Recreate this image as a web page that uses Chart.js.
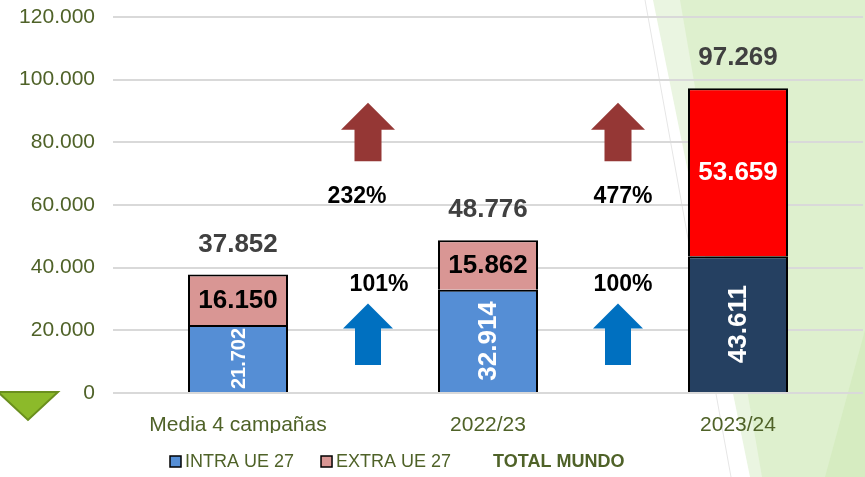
<!DOCTYPE html>
<html>
<head>
<meta charset="utf-8">
<script src="https://cdn.jsdelivr.net/npm/chart.js@4/dist/chart.umd.min.js"></script>
<style>
  html, body { margin: 0; padding: 0; background: #fff; }
  #wrap { width: 865px; height: 477px; }
</style>
</head>
<body>
<div id="wrap"><canvas id="chart" width="865" height="477"></canvas></div>
<script>
const categories = ['Media 4 campañas', '2022/23', '2023/24'];
const intraUE27 = [21702, 32914, 43611];
const extraUE27 = [16150, 15862, 53659];
const totalMundo = [37852, 48776, 97269];
const seriesNames = ['INTRA UE 27', 'EXTRA UE 27', 'TOTAL MUNDO'];
const yTickValues = [0, 20000, 40000, 60000, 80000, 100000, 120000];
const intraGrowth = ['101%', '100%'];
const extraGrowth = ['232%', '477%'];

const FONT = "'Liberation Sans', Arial, sans-serif";
const OLIVE = '#4F6228';

function fmt(v) {
    return String(v).replace(/\B(?=(\d{3})+(?!\d))/g, '.');
}

// slide decoration behind the chart
const backdrop = {
    id: 'backdrop',
    beforeDraw(chart) {
        const ctx = chart.ctx;
        const W = chart.width, H = chart.height;
        ctx.save();
        ctx.fillStyle = '#fff';
        ctx.fillRect(0, 0, W, H);

        ctx.fillStyle = '#EAF5E1';
        ctx.beginPath();
        ctx.moveTo(653, 0); ctx.lineTo(W, 0); ctx.lineTo(W, H); ctx.lineTo(750, H);
        ctx.closePath(); ctx.fill();

        ctx.fillStyle = '#DEF0CE';
        ctx.beginPath();
        ctx.moveTo(680, 0); ctx.lineTo(W, 0); ctx.lineTo(W, H); ctx.lineTo(762, H);
        ctx.closePath(); ctx.fill();

        ctx.fillStyle = '#D6ECC1';
        ctx.beginPath();
        ctx.moveTo(W, 330); ctx.lineTo(W, H); ctx.lineTo(825, H);
        ctx.closePath(); ctx.fill();

        ctx.strokeStyle = '#E6E6E6';
        ctx.lineWidth = 1;
        ctx.beginPath();
        ctx.moveTo(645, 0); ctx.lineTo(731, H);
        ctx.stroke();

        ctx.fillStyle = '#8CBA2A';
        ctx.strokeStyle = '#6A8F1E';
        ctx.lineWidth = 2;
        ctx.beginPath();
        ctx.moveTo(-2, 392); ctx.lineTo(58, 392); ctx.lineTo(28, 420);
        ctx.closePath(); ctx.fill(); ctx.stroke();
        ctx.restore();
    }
};

function drawArrow(ctx, cx, top, bottom, headW, shaftW, headH, color) {
    ctx.fillStyle = color;
    ctx.beginPath();
    ctx.moveTo(cx, top);
    ctx.lineTo(cx + headW / 2, top + headH);
    ctx.lineTo(cx + shaftW / 2, top + headH);
    ctx.lineTo(cx + shaftW / 2, bottom);
    ctx.lineTo(cx - shaftW / 2, bottom);
    ctx.lineTo(cx - shaftW / 2, top + headH);
    ctx.lineTo(cx - headW / 2, top + headH);
    ctx.closePath();
    ctx.fill();
}

// value labels, totals, growth arrows and legend
const annotations = {
    id: 'annotations',
    afterDatasetsDraw(chart) {
        const ctx = chart.ctx;
        const x = chart.scales.x, y = chart.scales.y;
        ctx.save();
        ctx.textAlign = 'center';
        ctx.textBaseline = 'middle';

        // intra: rotated white labels
        chart.getDatasetMeta(0).data.forEach((bar, i) => {
            const mid = (bar.y + bar.base) / 2;
            ctx.save();
            ctx.translate(bar.x, mid);
            ctx.rotate(-Math.PI / 2);
            ctx.fillStyle = '#fff';
            ctx.font = (i === 0 ? 'bold 20px ' : 'bold 26px ') + FONT;
            ctx.fillText(fmt(intraUE27[i]), 0, 1);
            ctx.restore();
        });

        // extra: horizontal labels
        chart.getDatasetMeta(1).data.forEach((bar, i) => {
            const mid = (bar.y + bar.base) / 2;
            ctx.fillStyle = i === 2 ? '#fff' : '#000';
            ctx.font = 'bold 26px ' + FONT;
            ctx.fillText(fmt(extraUE27[i]), bar.x, mid + 1);
        });

        // totals above the bars
        chart.getDatasetMeta(2).data.forEach((pt, i) => {
            ctx.fillStyle = '#404040';
            ctx.font = 'bold 26px ' + FONT;
            ctx.fillText(fmt(totalMundo[i]), pt.x, pt.y - 30);
        });

        // growth arrows between categories
        const extraDx = [-6, 10], intraDx = [16, 10];
        for (let i = 0; i < 2; i++) {
            const mid = (x.getPixelForValue(i) + x.getPixelForValue(i + 1)) / 2;
            drawArrow(ctx, mid + 5, y.getPixelForValue(28600), y.getPixelForValue(8900), 50, 26, 25, '#0070C0');
            drawArrow(ctx, mid + 5, y.getPixelForValue(92600), y.getPixelForValue(74000), 54, 27, 27, '#953735');
            ctx.fillStyle = '#000';
            ctx.font = 'bold 23px ' + FONT;
            ctx.fillText(extraGrowth[i], mid + extraDx[i], y.getPixelForValue(62700));
            ctx.fillText(intraGrowth[i], mid + intraDx[i], y.getPixelForValue(34700));
        }

        // legend
        const swatch = ['#558ED5', '#D99694', null];
        let lx = 170;
        const ly = 462;
        ctx.textAlign = 'left';
        seriesNames.forEach((name, i) => {
            if (swatch[i]) {
                ctx.fillStyle = swatch[i];
                ctx.fillRect(lx, ly - 6, 11, 11);
                ctx.strokeStyle = '#000';
                ctx.lineWidth = 1.5;
                ctx.strokeRect(lx, ly - 6, 11, 11);
                lx += 15;
                ctx.font = '18px ' + FONT;
            } else {
                lx += 15;
                ctx.font = 'bold 18px ' + FONT;
            }
            ctx.fillStyle = OLIVE;
            ctx.fillText(name, lx, ly);
            lx += ctx.measureText(name).width + 27;
        });
        ctx.restore();
    }
};

const ctx = document.getElementById('chart').getContext('2d');
new Chart(ctx, {
    data: {
        labels: categories,
        datasets: [
            {
                type: 'bar',
                label: seriesNames[0],
                data: intraUE27,
                backgroundColor: ['#558ED5', '#558ED5', '#254061'],
                borderColor: '#000',
                borderWidth: 2,
                stack: 'trade',
                barPercentage: 0.4,
                categoryPercentage: 1
            },
            {
                type: 'bar',
                label: seriesNames[1],
                data: extraUE27,
                backgroundColor: ['#D99694', '#D99694', '#FF0000'],
                borderColor: '#000',
                borderWidth: 2,
                stack: 'trade',
                barPercentage: 0.4,
                categoryPercentage: 1
            },
            {
                type: 'line',
                label: seriesNames[2],
                data: totalMundo,
                showLine: false,
                pointRadius: 0,
                stack: 'total'
            }
        ]
    },
    options: {
        responsive: false,
        animation: false,
        layout: { padding: { top: 17, right: 2, left: 0, bottom: 44 } },
        plugins: {
            legend: { display: false },
            tooltip: { enabled: false }
        },
        scales: {
            x: {
                stacked: true,
                grid: { display: false },
                border: { display: false },
                ticks: { color: OLIVE, font: { family: FONT, size: 21 }, padding: 12 },
                afterFit(scale) {
                    scale.height = 40;
                    scale.paddingLeft = 0;
                    scale.paddingRight = 0;
                }
            },
            y: {
                stacked: true,
                min: 0,
                max: 120000,
                afterBuildTicks(scale) { scale.ticks = yTickValues.map(v => ({ value: v })); },
                grid: { color: '#D9D9D9', lineWidth: 2, drawTicks: false },
                border: { display: false },
                ticks: {
                    color: OLIVE,
                    font: { family: FONT, size: 21 },
                    padding: 18,
                    callback: v => fmt(v)
                },
                afterFit(scale) {
                    scale.width = 113;
                    scale.paddingTop = 0;
                    scale.paddingBottom = 0;
                }
            }
        }
    },
    plugins: [backdrop, annotations]
});
</script>
</body>
</html>
